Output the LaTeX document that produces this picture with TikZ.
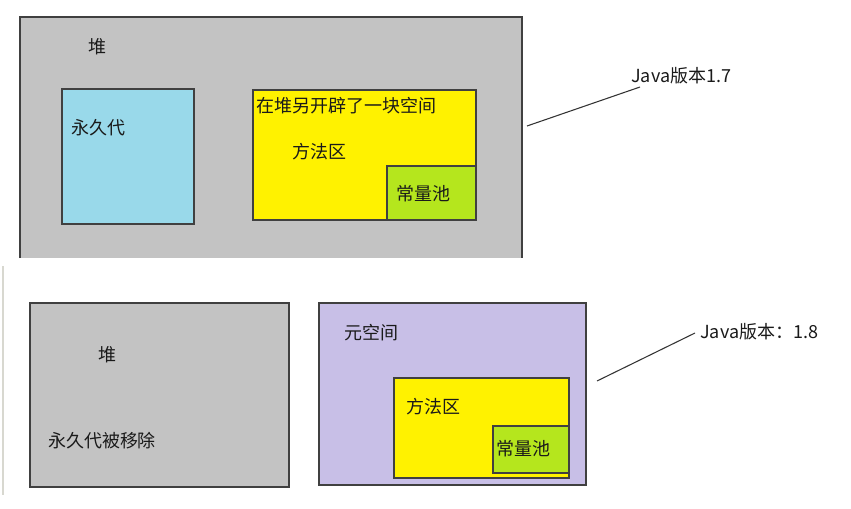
\documentclass[tikz,border=0pt]{standalone}
\usepackage{fontspec}
\setmainfont{Noto Sans CJK SC}
\definecolor{heapgray}{HTML}{C3C3C3}
\definecolor{permblue}{HTML}{99D9EA}
\definecolor{methyellow}{HTML}{FFF200}
\definecolor{poolgreen}{HTML}{B5E61D}
\definecolor{metapurple}{HTML}{C8BFE7}
\definecolor{edge}{HTML}{404040}
\definecolor{txt}{HTML}{1A1A1A}
\begin{document}
\begin{tikzpicture}[x=0.75pt,y=-0.75pt,
  lbl/.style={inner sep=0pt, text=txt, font=\fontsize{13.5}{15}\selectfont},
  region/.style={draw=edge, line width=1.2pt},
  leader/.style={draw=black!80, line width=0.8pt}]
\useasboundingbox (0,0) rectangle (851,508);
\fill[white] (0,0) rectangle (851,508);
% ---------- Java 1.7 ----------
\fill[heapgray] (20,17) rectangle (522,258);
\draw[region] (20,258) -- (20,17) -- (522,17) -- (522,258);
\node[lbl] (heapA) at (98,47) {堆};
\draw[region, fill=permblue] (62,89) rectangle (194,224);
\node[lbl] (permA) at (98,128) {永久代};
\draw[region, fill=methyellow] (253,90) rectangle (476,220);
\node[lbl, anchor=west] (newA) at (256,106) {在堆另开辟了一块空间};
\node[lbl] (methA) at (319,152) {方法区};
\draw[region, fill=poolgreen] (387,166) rectangle (476,220);
\node[lbl] (poolA) at (423,194) {常量池};
\node[lbl, anchor=west] (verA) at (631,76) {Java版本1.7};
\coordinate (startA) at (527,126);
\coordinate (endA) at (640,87);
\draw[leader] (startA) -- (endA);
% ---------- separator ----------
\draw[draw={rgb,255:red,216;green,216;blue,208}, line width=1pt] (3,266) -- (3,495);
% ---------- Java 1.8 ----------
\draw[region, fill=heapgray] (30,303) rectangle (289,487);
\node[lbl] (heapB) at (107,355) {堆};
\node[lbl] (removedB) at (102,441) {永久代被移除};
\draw[region, fill=metapurple] (319,303) rectangle (586,485);
\node[lbl] (metaB) at (371,333) {元空间};
\draw[region, fill=methyellow] (394,378) rectangle (569,478);
\node[lbl] (methB) at (433,407) {方法区};
\draw[region, fill=poolgreen] (493,426) rectangle (569,473);
\node[lbl] (poolB) at (523,449) {常量池};
\node[lbl, anchor=west] (verB) at (700,332) {Java版本：1.8};
\coordinate (startB) at (597,381);
\coordinate (endB) at (695,333);
\draw[leader] (startB) -- (endB);
\end{tikzpicture}
\end{document}
